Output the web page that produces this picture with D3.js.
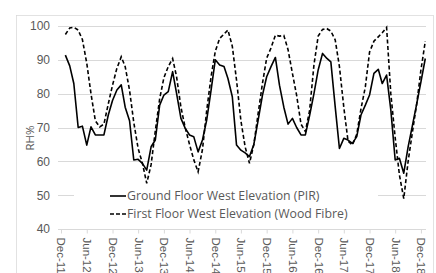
<!DOCTYPE html>
<html>
<head>
<meta charset="utf-8">
<script src="https://cdn.jsdelivr.net/npm/d3@7"></script>
<style>
  body { margin: 0; background: #fff; }
  svg { display: block; font-family: "Open Sans", "Liberation Sans", sans-serif; }
</style>
</head>
<body>
<svg id="chart" width="436" height="273"></svg>
<script>
// monthly readings, Jan-12 .. Jan-19
const startMonth = "2012-01";
const groundFloor = [
  91.4, 88.2, 83, 70, 70.4, 64.8, 70.2, 67.8, 67.8, 67.8, 73.7, 78,
  81.1, 82.6, 76, 72, 60.4, 60.6, 59.4, 57.4, 64.3, 66.3, 76.6, 79.6,
  80.6, 86.5, 80.1, 72.7, 69.8, 67.8, 67.3, 62.8, 66.3, 72.2, 81, 90,
  88.5, 88, 84.5, 79.1, 64.8, 63.3, 62.5, 61.4, 65, 72, 79.5, 85,
  88, 90.7, 82.5, 76, 71, 72.7, 70, 67.8, 67.8, 73.5, 80, 87,
  91.9, 90.4, 89.4, 76.1, 63.8, 66.8, 66.3, 65.3, 67.3, 73.7, 76.6, 79.6,
  86, 87.2, 83, 85.5, 75.2, 60.4, 60.9, 56.5, 64.3, 70.5, 77, 83.5, 90.4
];
const firstFloor = [
  97.5, 99.4, 99.6, 98.8, 96, 89, 80, 72, 70.2, 71, 77, 82.5,
  87.5, 90.9, 88, 81, 71.5, 63.8, 59.5, 53.5, 59, 69, 78.5, 84.7,
  88, 90.4, 85, 76, 70, 65, 60.5, 56.9, 63.5, 75, 85, 92.5,
  96.3, 97.6, 98.8, 94, 84, 72, 64.3, 59.4, 65, 74, 83, 90.5,
  93.5, 97.3, 97, 97.2, 93, 86, 79.5, 71, 68.8, 75, 88.5, 97,
  99, 99.2, 98.5, 95.9, 88, 76, 66, 64.8, 68, 75.5, 82, 92.3,
  95.5, 96.8, 98, 99.6, 80, 67, 56, 49, 60, 68.5, 77, 87, 95.5
];
const yTicks = [40, 50, 60, 70, 80, 90, 100];
const xTickLabels = ["Dec-11", "Jun-12", "Dec-12", "Jun-13", "Dec-13", "Jun-14", "Dec-14", "Jun-15",
  "Dec-15", "Jun-16", "Dec-16", "Jun-17", "Dec-17", "Jun-18", "Dec-18"];
const seriesNames = ["Ground Floor West Elevation (PIR)", "First Floor West Elevation (Wood Fibre)"];

const parseMonth = d3.timeParse("%Y-%m");
const parseTick = d3.timeParse("%b-%y");
const t0 = parseMonth(startMonth);
const dates = groundFloor.map((d, i) => d3.timeMonth.offset(t0, i));

const svg = d3.select("#chart");
const plot = { left: 58, right: 426, top: 26, bottom: 229 };

// chart frame
svg.append("rect")
  .attr("x", 16.5).attr("y", 15.5)
  .attr("width", 417).attr("height", 270)
  .attr("fill", "none").attr("stroke", "#d9d9d9").attr("stroke-width", 0.75);

const x = d3.scaleTime()
  .domain([parseTick("Dec-11"), d3.timeMonth.offset(parseTick("Dec-18"), 1)])
  .range([61, 425.3]);
const y = d3.scaleLinear().domain([40, 100]).range([plot.bottom, plot.top]);

// gridlines
svg.append("g")
  .selectAll("line")
  .data(yTicks.slice(1))
  .join("line")
  .attr("x1", plot.left).attr("x2", plot.right)
  .attr("y1", (d) => Math.round(y(d)) + 0.5).attr("y2", (d) => Math.round(y(d)) + 0.5)
  .attr("stroke", "#d9d9d9").attr("stroke-width", 1);

// Y axis labels
const yAxis = d3.axisLeft(y).tickValues(yTicks).tickSize(0).tickPadding(8);
const gy = svg.append("g").attr("transform", "translate(" + plot.left + ",0)").call(yAxis);
gy.select(".domain").remove();
gy.selectAll("text").attr("fill", "#595959").attr("font-size", "12px");

// X axis
const xAxis = d3.axisBottom(x)
  .tickValues(xTickLabels.map((s) => parseTick(s)))
  .tickFormat(d3.timeFormat("%b-%y"))
  .tickSize(4)
  .tickSizeOuter(0);
const gx = svg.append("g").attr("transform", "translate(0," + (Math.round(plot.bottom) + 0.5) + ")").call(xAxis);
gx.select(".domain").attr("stroke", "#d9d9d9").attr("d", "M" + plot.left + ",0H" + plot.right);
gx.selectAll(".tick line").attr("stroke", "#d9d9d9");
gx.selectAll("text")
  .attr("fill", "#595959")
  .attr("font-size", "11.5px")
  .attr("text-anchor", "start")
  .attr("transform", "rotate(90)")
  .attr("x", 8)
  .attr("y", 0)
  .attr("dy", "0.35em");

// Y title
svg.append("text")
  .attr("transform", "translate(34,138) rotate(-90)")
  .attr("text-anchor", "middle")
  .attr("fill", "#595959")
  .attr("font-size", "11.5px")
  .text("RH%");

// lines
const line = d3.line().x((d, i) => x(dates[i])).y((d) => y(d));
svg.append("path")
  .datum(groundFloor)
  .attr("d", line)
  .attr("fill", "none").attr("stroke", "#000").attr("stroke-width", 1.6)
  .attr("stroke-linejoin", "round");
svg.append("path")
  .datum(firstFloor)
  .attr("d", line)
  .attr("fill", "none").attr("stroke", "#000").attr("stroke-width", 1.6)
  .attr("stroke-dasharray", "4,2.5");

// legend
const legend = svg.append("g");
legend.append("rect")
  .attr("x", 74).attr("y", 185).attr("width", 304).attr("height", 39)
  .attr("fill", "#fff");
seriesNames.forEach((name, i) => {
  const ly = 196 + i * 18;
  legend.append("line")
    .attr("x1", 110).attr("x2", 126).attr("y1", ly).attr("y2", ly)
    .attr("stroke", "#000").attr("stroke-width", 1.6)
    .attr("stroke-dasharray", i === 1 ? "4,2" : null);
  legend.append("text")
    .attr("x", 127).attr("y", ly).attr("dy", "0.35em")
    .attr("fill", "#595959").attr("font-size", "12.3px")
    .text(name);
});
</script>
</body>
</html>
